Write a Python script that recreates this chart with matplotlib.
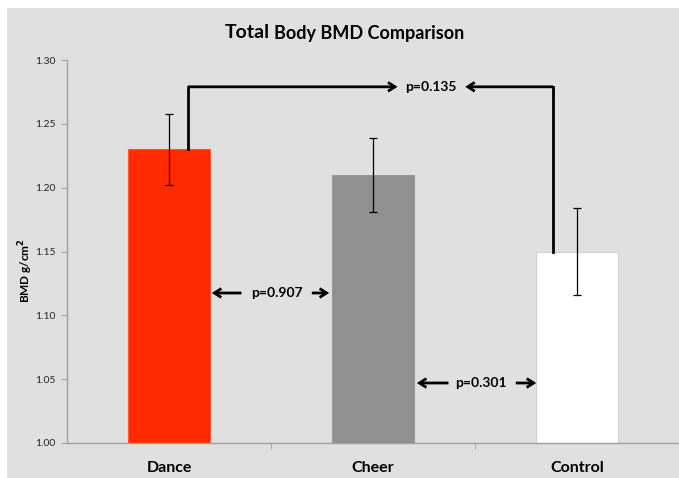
import matplotlib
matplotlib.use("Agg")
import matplotlib.pyplot as plt
from matplotlib.patches import Rectangle

plt.rcParams['font.family'] = ['Lato', 'DejaVu Sans']

categories = ["Dance", "Cheer", "Control"]
means = [1.23, 1.21, 1.15]
errors = [0.028, 0.029, 0.034]
bar_colors = ["#ff2a00", "#909090", "#ffffff"]
edge_colors = ["#ff5a3a", "#9a9a9a", "#d0d0d0"]
p_labels = ["p=0.135", "p=0.907", "p=0.301"]
yticks = [1.00, 1.05, 1.10, 1.15, 1.20, 1.25, 1.30]

W, H = 679, 478
fig = plt.figure(figsize=(W / 100, H / 100), dpi=100)
fig.patch.set_facecolor("white")
fig.patches.append(Rectangle((7 / W, 0), 1 - 7 / W, 1 - 8 / H, transform=fig.transFigure,
                             facecolor="#e0e0e0", edgecolor="none", zorder=-5))

ax = fig.add_axes([67 / W, (H - 443) / H, 1 - 67 / W, (443 - 60) / H])
ax.set_facecolor("none")
x = list(range(len(categories)))
ax.bar(x, [m - 1.0 for m in means], bottom=1.0, width=0.4, color=bar_colors,
       edgecolor=edge_colors, linewidth=0.8, zorder=2)
ax.errorbar(x, means, yerr=errors, fmt="none", ecolor="black", elinewidth=0.9,
            capsize=3, capthick=0.9, zorder=3)

ax.set_xlim(-0.5, 2.5)
ax.set_ylim(1.00, 1.30)
ax.set_yticks(yticks)
ax.set_yticklabels([f"{v:.2f}" for v in yticks], fontsize=7.5, color="#222222")
ax.set_xticks(x)
ax.set_xticklabels(categories, fontsize=11.5, fontweight="bold")
ax.set_xticks([0.5, 1.5], minor=True)
ax.tick_params(axis="x", which="major", length=0, pad=13)
ax.tick_params(axis="x", which="minor", length=4, color="#a0a0a0", direction="out")
ax.tick_params(axis="y", length=4, color="#a0a0a0", direction="out", pad=4)
for s in ["top", "right"]:
    ax.spines[s].set_visible(False)
for s in ["left", "bottom"]:
    ax.spines[s].set_color("#a0a0a0")
    ax.spines[s].set_linewidth(1.0)

ax.set_ylabel("BMD g/cm$^\\mathbf{2}$", fontsize=8.5, fontweight="bold")
ax.yaxis.set_label_coords(-0.052, 0.45)

arrow_kw = dict(arrowstyle="->,head_length=0.5,head_width=0.32", color="black", lw=2,
                shrinkA=0, shrinkB=0, joinstyle="miter", capstyle="butt")
lk = dict(color="black", lw=2, solid_capstyle="projecting", solid_joinstyle="miter", zorder=4)

# p=0.135 bracket
yb = 1.279
ax.plot([0.093, 0.093], [means[0], yb], **lk)
ax.annotate("", xy=(1.12, yb), xytext=(0.093, yb), arrowprops=arrow_kw)
ax.plot([1.883, 1.883], [means[2], yb], **lk)
ax.annotate("", xy=(1.452, yb), xytext=(1.883, yb), arrowprops=arrow_kw)
ax.text(1.285, yb, p_labels[0], ha="center", va="center", fontsize=10, fontweight="bold")

# p=0.907
y2 = 1.1175
ax.annotate("", xy=(0.21, y2), xytext=(0.355, y2), arrowprops=arrow_kw)
ax.annotate("", xy=(0.785, y2), xytext=(0.7, y2), arrowprops=arrow_kw)
ax.text(0.53, y2, p_labels[1], ha="center", va="center", fontsize=10, fontweight="bold")

# p=0.301
y3 = 1.047
ax.annotate("", xy=(1.215, y3), xytext=(1.37, y3), arrowprops=arrow_kw)
ax.annotate("", xy=(1.8, y3), xytext=(1.7, y3), arrowprops=arrow_kw)
ax.text(1.53, y3, p_labels[2], ha="center", va="center", fontsize=10, fontweight="bold")

# Title with larger "Total"
fig.canvas.draw()
r = fig.canvas.get_renderer()
t1 = fig.text(225 / W, 1 - 32 / H, "Total", fontsize=14, fontweight="bold", ha="left", va="center")
bb = t1.get_window_extent(renderer=r)
fig.text(bb.x1 / W + 4 / W, 1 - 33 / H, "Body BMD Comparison", fontsize=13, fontweight="bold",
         ha="left", va="center")

fig.savefig("out.png", dpi=100)
